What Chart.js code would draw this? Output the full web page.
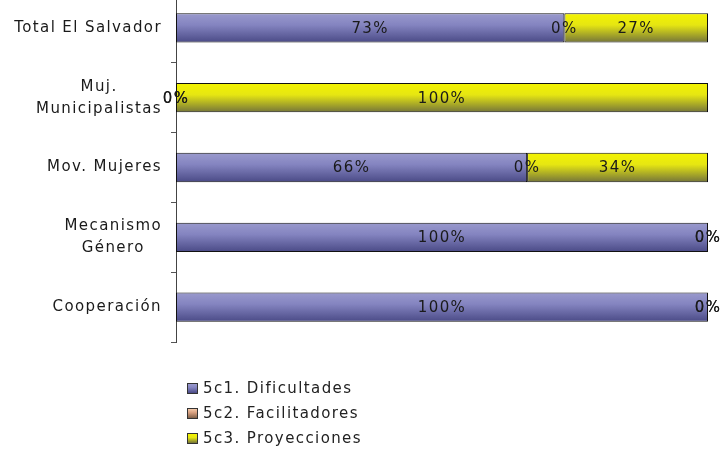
<!DOCTYPE html>
<html>
<head>
<meta charset="utf-8">
<script src="https://cdn.jsdelivr.net/npm/chart.js@4/dist/chart.umd.min.js"></script>
<style>
  body { margin: 0; background: #fff; }
  #wrap { position: relative; width: 724px; height: 453px; overflow: hidden; }
  #chart { position: absolute; left: 0; top: -7px; }
  #legend { position: absolute; left: 187px; top: 377px; font: 15px "DejaVu Sans", sans-serif; color: #222; letter-spacing: 1.4px; }
  #legend div { height: 25px; line-height: 22px; white-space: nowrap; }
  #legend span.box { display: inline-block; width: 9px; height: 9px; border: 1px solid #333; margin-right: 5px; vertical-align: -1px; }
</style>
</head>
<body>
<div id="wrap">
  <canvas id="chart" width="724" height="460"></canvas>
  <div id="legend"></div>
</div>
<script>
const categories = ['Total El Salvador', ['Muj.', 'Municipalistas'], 'Mov. Mujeres', ['Mecanismo', 'Género'], 'Cooperación'];
const seriesNames = ['5c1. Dificultades', '5c2. Facilitadores', '5c3. Proyecciones'];
const dificultades = [73, 0, 66, 100, 100];
const facilitadores = [0, 0, 0, 0, 0];
const proyecciones = [27, 100, 34, 0, 0];

const palettes = [
    ['#9a9acd', '#8484c0', '#4a4a86'],
    ['#f2c8a8', '#d8a080', '#806048'],
    ['#f4f400', '#e6e612', '#74743a']
];

const barShare = 0.42;

function barGradient(stops) {
    return function (c) {
        const chart = c.chart;
        const y = chart.scales.y;
        if (!chart.chartArea || !y) return stops[1];
        const h = y.height / categories.length * barShare;
        const cy = y.getPixelForValue(c.dataIndex);
        const g = chart.ctx.createLinearGradient(0, cy - h / 2, 0, cy + h / 2);
        g.addColorStop(0, stops[0]);
        g.addColorStop(0.4, stops[1]);
        g.addColorStop(1, stops[2]);
        return g;
    };
}

const font = '15px "DejaVu Sans", sans-serif';
const spacing = '1.4px';

// percentage labels in the middle of each bar
const valueLabels = {
    id: 'valueLabels',
    afterDatasetsDraw(chart) {
        const ctx = chart.ctx;
        ctx.save();
        ctx.font = font;
        ctx.letterSpacing = spacing;
        ctx.fillStyle = '#1a1a1a';
        ctx.textAlign = 'center';
        ctx.textBaseline = 'middle';
        chart.data.datasets.forEach((ds, i) => {
            chart.getDatasetMeta(i).data.forEach((bar, j) => {
                const p = bar.getCenterPoint();
                ctx.fillText(ds.data[j] + '%', p.x, p.y + 1);
            });
        });
        ctx.restore();
    }
};

// category labels: block right aligned, lines centred
const categoryLabels = {
    id: 'categoryLabels',
    afterDraw(chart) {
        const ctx = chart.ctx;
        const y = chart.scales.y;
        ctx.save();
        ctx.font = font;
        ctx.letterSpacing = spacing;
        ctx.fillStyle = '#1a1a1a';
        ctx.textAlign = 'center';
        ctx.textBaseline = 'middle';
        const right = 162;
        const lh = 22;
        categories.forEach((lab, i) => {
            const lines = Array.isArray(lab) ? lab : [lab];
            const w = Math.max(...lines.map(l => ctx.measureText(l).width));
            const cx = right - w / 2;
            const cy = y.getPixelForValue(i);
            lines.forEach((l, k) => {
                ctx.fillText(l, cx, cy + (k - (lines.length - 1) / 2) * lh);
            });
        });
        ctx.restore();
    }
};

const data = {
    labels: categories,
    datasets: [dificultades, facilitadores, proyecciones].map((vals, i) => ({
        label: seriesNames[i],
        data: vals,
        backgroundColor: barGradient(palettes[i]),
        borderColor: '#111',
        borderWidth: 1,
        borderSkipped: false,
        barPercentage: barShare / 0.5,
        categoryPercentage: 0.5
    }))
};

new Chart(document.getElementById('chart'), {
    type: 'bar',
    data: data,
    options: {
        indexAxis: 'y',
        responsive: false,
        animation: false,
        layout: { padding: { top: 0, right: 16, bottom: 111, left: 0 } },
        plugins: {
            legend: { display: false },
            tooltip: { enabled: false }
        },
        scales: {
            x: {
                stacked: true,
                display: false,
                min: 0,
                max: 100
            },
            y: {
                stacked: true,
                afterFit: s => { s.width = 176; },
                ticks: { display: false },
                grid: {
                    offset: true,
                    drawOnChartArea: false,
                    drawTicks: true,
                    tickLength: 5,
                    color: '#555'
                },
                border: { color: '#444', width: 1 }
            }
        }
    },
    plugins: [valueLabels, categoryLabels]
});

const legend = document.getElementById('legend');
seriesNames.forEach((name, i) => {
    const row = document.createElement('div');
    const box = document.createElement('span');
    box.className = 'box';
    box.style.background = 'linear-gradient(' + palettes[i][0] + ', ' + palettes[i][1] + ' 40%, ' + palettes[i][2] + ')';
    row.appendChild(box);
    row.appendChild(document.createTextNode(name));
    legend.appendChild(row);
});
</script>
</body>
</html>
